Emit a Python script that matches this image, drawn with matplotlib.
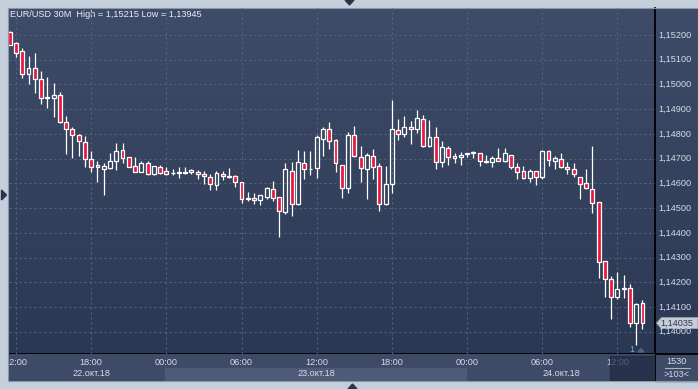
import numpy as np
import matplotlib
matplotlib.use('Agg')
import matplotlib.pyplot as plt
from matplotlib.patches import Rectangle, Polygon
from matplotlib.colors import LinearSegmentedColormap
from matplotlib.transforms import blended_transform_factory

plt.rcParams['font.family'] = ['Liberation Sans', 'DejaVu Sans']

# --- EUR/USD 30M candles, 22.10.18 11:30 .. 24.10.18 14:00 ---
opens = [1.15212, 1.15166, 1.15135, 1.15042, 1.15065, 1.15021, 1.14945, 1.14947, 1.14957, 1.14849,
         1.14819, 1.14794, 1.14766, 1.14700, 1.14673, 1.14660, 1.14662, 1.14689, 1.14733, 1.14705,
         1.14669, 1.14647, 1.14681, 1.14639, 1.14665, 1.14650, 1.14640, 1.14642, 1.14643, 1.14644,
         1.14645, 1.14637, 1.14624, 1.14595, 1.14637, 1.14624, 1.14628, 1.14604, 1.14538, 1.14541,
         1.14531, 1.14543, 1.14579, 1.14544, 1.14485, 1.14649, 1.14515, 1.14681, 1.14656, 1.14663,
         1.14778, 1.14819, 1.14774, 1.14673, 1.14583, 1.14794, 1.14705, 1.14657, 1.14709, 1.14670,
         1.14516, 1.14596, 1.14815, 1.14798, 1.14827, 1.14819, 1.14859, 1.14752, 1.14789, 1.14685,
         1.14741, 1.14701, 1.14706, 1.14719, 1.14722, 1.14722, 1.14689, 1.14688, 1.14704, 1.14692,
         1.14713, 1.14668, 1.14648, 1.14620, 1.14649, 1.14627, 1.14730, 1.14692, 1.14700, 1.14665,
         1.14657, 1.14627, 1.14600, 1.14579, 1.14523, 1.14285, 1.14212, 1.14141, 1.14171, 1.14175,
         1.14034, 1.14115]
highs = [1.15215, 1.15172, 1.15146, 1.15115, 1.15127, 1.15054, 1.15030, 1.15006, 1.14969, 1.14872,
         1.14828, 1.14800, 1.14792, 1.14731, 1.14690, 1.14682, 1.14723, 1.14763, 1.14763, 1.14708,
         1.14708, 1.14692, 1.14692, 1.14669, 1.14675, 1.14666, 1.14660, 1.14665, 1.14665, 1.14659,
         1.14654, 1.14648, 1.14636, 1.14649, 1.14649, 1.14661, 1.14632, 1.14605, 1.14564, 1.14559,
         1.14553, 1.14585, 1.14608, 1.14544, 1.14682, 1.14686, 1.14735, 1.14731, 1.14729, 1.14796,
         1.14828, 1.14848, 1.14778, 1.14673, 1.14809, 1.14832, 1.14751, 1.14722, 1.14739, 1.14681,
         1.14670, 1.14937, 1.14861, 1.14872, 1.14853, 1.14897, 1.14876, 1.14856, 1.14829, 1.14771,
         1.14750, 1.14723, 1.14727, 1.14722, 1.14731, 1.14722, 1.14715, 1.14712, 1.14742, 1.14742,
         1.14713, 1.14681, 1.14670, 1.14657, 1.14649, 1.14735, 1.14735, 1.14711, 1.14722, 1.14686,
         1.14681, 1.14627, 1.14657, 1.14751, 1.14523, 1.14287, 1.14225, 1.14241, 1.14229, 1.14193,
         1.14115, 1.14128]
lows = [1.15158, 1.15109, 1.15027, 1.15002, 1.14964, 1.14921, 1.14903, 1.14870, 1.14845, 1.14719,
        1.14704, 1.14712, 1.14667, 1.14647, 1.14607, 1.14553, 1.14658, 1.14654, 1.14683, 1.14665,
        1.14645, 1.14645, 1.14635, 1.14635, 1.14636, 1.14634, 1.14634, 1.14623, 1.14638, 1.14638,
        1.14619, 1.14597, 1.14573, 1.14573, 1.14614, 1.14620, 1.14585, 1.14522, 1.14529, 1.14516,
        1.14514, 1.14537, 1.14529, 1.14384, 1.14478, 1.14469, 1.14513, 1.14616, 1.14634, 1.14623,
        1.14711, 1.14739, 1.14647, 1.14539, 1.14562, 1.14708, 1.14605, 1.14535, 1.14619, 1.14489,
        1.14511, 1.14560, 1.14775, 1.14789, 1.14759, 1.14804, 1.14748, 1.14748, 1.14658, 1.14667,
        1.14673, 1.14682, 1.14674, 1.14706, 1.14701, 1.14670, 1.14684, 1.14667, 1.14691, 1.14688,
        1.14660, 1.14619, 1.14618, 1.14604, 1.14595, 1.14616, 1.14671, 1.14657, 1.14662, 1.14636,
        1.14627, 1.14535, 1.14579, 1.14479, 1.14216, 1.14141, 1.14052, 1.14133, 1.14135, 1.14020,
        1.13945, 1.14013]
closes = [1.15160, 1.15129, 1.15042, 1.15065, 1.15022, 1.14944, 1.14949, 1.14956, 1.14849, 1.14819,
          1.14794, 1.14770, 1.14700, 1.14667, 1.14665, 1.14669, 1.14689, 1.14730, 1.14701, 1.14667,
          1.14647, 1.14681, 1.14636, 1.14669, 1.14643, 1.14639, 1.14642, 1.14646, 1.14647, 1.14652,
          1.14637, 1.14628, 1.14596, 1.14641, 1.14628, 1.14628, 1.14607, 1.14538, 1.14541, 1.14531,
          1.14552, 1.14580, 1.14539, 1.14487, 1.14657, 1.14515, 1.14685, 1.14657, 1.14659, 1.14786,
          1.14819, 1.14770, 1.14681, 1.14580, 1.14794, 1.14709, 1.14661, 1.14713, 1.14665, 1.14516,
          1.14596, 1.14819, 1.14798, 1.14828, 1.14819, 1.14863, 1.14752, 1.14786, 1.14685, 1.14746,
          1.14705, 1.14709, 1.14713, 1.14722, 1.14725, 1.14689, 1.14685, 1.14702, 1.14692, 1.14722,
          1.14667, 1.14645, 1.14620, 1.14649, 1.14624, 1.14730, 1.14694, 1.14702, 1.14667, 1.14657,
          1.14637, 1.14596, 1.14580, 1.14519, 1.14283, 1.14212, 1.14141, 1.14171, 1.14175, 1.14034,
          1.14111, 1.14035]

time_ticks = [1, 13, 25, 37, 49, 61, 73, 85, 97]
time_labels = ['12:00', '18:00', '00:00', '06:00', '12:00', '18:00', '00:00', '06:00', '12:00']
date_pos = [13, 49, 88]
date_labels = ['22.окт.18', '23.окт.18', '24.окт.18']
price_ticks = np.round(np.arange(1.140, 1.1525, 0.001), 3)

title = 'EUR/USD 30M  High = 1,15215 Low = 1,13945'

W, H = 698, 389
L, R, T, B = 8.5, 655, 8, 354
TXT = '#d3dcea'
RED = '#e8193f'

fig = plt.figure(figsize=(W / 100, H / 100), dpi=100)
fig.patch.set_facecolor('#c5cfdb')

# pixel-space background layer
bg = fig.add_axes([0, 0, 1, 1])
grad = np.linspace(0, 1, 256).reshape(-1, 1)
cmap = LinearSegmentedColormap.from_list('bg', ['#3e4c69', '#2b3853'])
bg.imshow(grad, cmap=cmap, extent=[L, W, B, T], aspect='auto', zorder=0)
bg.add_patch(Rectangle((R, B), W - R, 381 - B, color='#3e4b66', zorder=1))
bg.set_xlim(0, W)
bg.set_ylim(H, 0)
bg.set_axis_off()

# main price panel
ax = fig.add_axes([L / W, 1 - B / H, (R - L) / W, (B - T) / H])
ax.patch.set_alpha(0)
ax.set_xlim(-0.2, 103.0)
ax.set_ylim(1.13910, 1.15309)
ax.set_axis_off()

for p in price_ticks:
    ax.axhline(p, color='#57647f', lw=0.8, ls=(0, (1.8, 2.7)), zorder=1)
for t in time_ticks:
    ax.axvline(t, color='#57647f', lw=0.8, ls=(0, (1.8, 2.7)), zorder=1)

o = np.array(opens)
c = np.array(closes)
hi = np.array(highs)
lo = np.array(lows)
idx = np.arange(len(o))
top = np.maximum(o, c)
bot = np.minimum(o, c)
ax.vlines(idx, top, hi, colors='white', lw=0.9, zorder=2)
ax.vlines(idx, lo, bot, colors='white', lw=0.9, zorder=2)
faces = [RED if cc < oo else 'none' for oo, cc in zip(o, c)]
ax.bar(idx, np.maximum(top - bot, 0.00002), bottom=bot, width=0.62, color=faces,
       edgecolor='white', linewidth=0.9, zorder=3)

# price scale labels
ytrans = blended_transform_factory(bg.transData, ax.transData)
for p in price_ticks:
    ax.text(675, p, f'{p:.5f}'.replace('.', ','), transform=ytrans, ha='center',
            va='center', fontsize=6.6, color=TXT, clip_on=False)

# last price tag
last = closes[-1]
ypix = bg.transData.inverted().transform(ax.transData.transform((0, last)))[1]
bg.add_patch(Polygon([(656.5, ypix), (661.5, ypix - 5.5), (W, ypix - 5.5), (W, ypix + 5.5),
                      (661.5, ypix + 5.5)], closed=True, facecolor='#c7cdd6',
                     edgecolor='#9aa3b2', lw=0.6, zorder=5))
bg.text(677, ypix, f'{last:.5f}'.replace('.', ','), ha='center', va='center',
        fontsize=6.6, color='#2c3650', zorder=6)

# time strip
tax = fig.add_axes([L / W, 1 - 381 / H, (R - L) / W, (381 - B) / H])
tax.set_xlim(ax.get_xlim())
tax.set_ylim(27, 0)
tax.set_axis_off()
x0, x1 = tax.get_xlim()
tax.add_patch(Rectangle((x0, 0), x1 - x0, 27, color='#3e4b66', zorder=0))
day_edges = [x0] + [t - 0.15 for t, lab in zip(time_ticks, time_labels) if lab == '00:00'] + [x1]
for k in range(len(day_edges) - 1):
    if k % 2 == 1:
        tax.add_patch(Rectangle((day_edges[k], 13.6), day_edges[k + 1] - day_edges[k], 13.4,
                                color='#4d5b77', zorder=0))
for t, lab in zip(time_ticks, time_labels):
    tax.text(t, 8.6, lab, ha='center', va='center', fontsize=6.6, color=TXT,
             clip_on=True, clip_box=tax.bbox)
for d, lab in zip(date_pos, date_labels):
    tax.text(d, 19.6, lab, ha='center', va='center', fontsize=6.6, color=TXT)
tax.add_patch(Rectangle((95.8, 1.5), x1 - 95.8, 25, color='#1f2843', alpha=0.7, zorder=5))

# frame details
bg.plot([L, W], [B, B], color='black', lw=1.3, zorder=7)
bg.plot([R, R], [T, 381], color='black', lw=1.3, zorder=7)
bg.add_patch(Rectangle((8, 8), W - 8, 373, fill=False, edgecolor='#8c98aa', lw=0.8, zorder=7))
bg.text(677, 361.5, '1530', ha='center', va='center', fontsize=6.6, color=TXT, zorder=8)
bg.plot([665, 690], [367.8, 367.8], color='#a9b3c3', lw=0.8, zorder=8)
bg.text(677, 374.3, '>103<', ha='center', va='center', fontsize=6.6, color=TXT, zorder=8)
bg.text(10, 14.8, title, ha='left', va='center', fontsize=6.6, color='#eaeff7', zorder=8)
bg.text(632, 349, '1', ha='center', va='center', fontsize=6.6, color='#6aa7e0', zorder=8)
bg.add_patch(Polygon([(638, 352), (644, 352), (641, 348.5)], color='#566277', zorder=8))
bg.add_patch(Polygon([(345, 0), (354, 0), (349.5, 5)], color='#27344a', zorder=8))
bg.add_patch(Polygon([(1.5, 190), (1.5, 200), (6.5, 195)], color='#27344a', zorder=8))
bg.add_patch(Polygon([(348, 389), (357, 389), (352.5, 384)], color='#27344a', zorder=8))

fig.savefig('out.png', dpi=100)
